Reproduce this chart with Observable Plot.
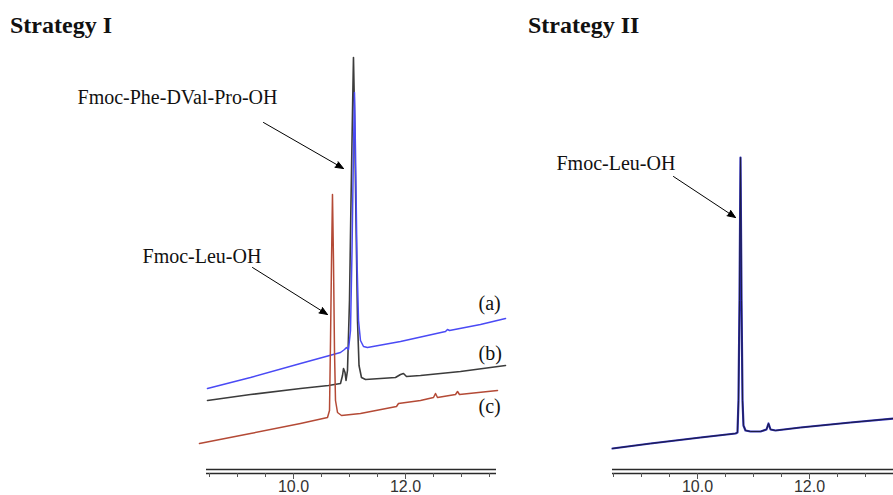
<!DOCTYPE html>
<html><head><meta charset="utf-8">
<script src="https://cdn.jsdelivr.net/npm/d3@7"></script>
<script src="https://cdn.jsdelivr.net/npm/@observablehq/plot@0.6"></script>
<style>
body{margin:0;background:#fff;}
#wrap{position:relative;width:893px;height:495px;overflow:hidden;background:#fff}
#wrap svg{position:absolute;left:0;top:0}
.title{position:absolute;font:bold 24px "Liberation Serif";line-height:1;color:#111;white-space:nowrap}
</style></head><body>
<div id="wrap">
<div class="title" style="left:10px;top:13px">Strategy I</div>
<div class="title" style="left:528px;top:13px">Strategy II</div>
</div>
<script>
// ---- Strategy I: retention time (min) and signal (arbitrary units) ----
const traceA_time = [8.464, 9.232, 10.125, 10.839, 10.911, 10.946, 10.982, 11.018, 11.045, 11.071, 11.089, 11.107, 11.134, 11.161, 11.196, 11.25, 11.321, 11.911, 12.714, 12.75, 12.786, 13.339, 13.786];
const traceA_signal = [85, 96, 110, 121, 124, 126, 124, 143, 223, 323, 381, 323, 213, 153, 133, 127, 126, 132, 142, 144, 143, 149, 155];

const traceB_time = [8.464, 9.232, 10.125, 10.625, 10.839, 10.875, 10.893, 10.920, 10.938, 10.964, 11.0, 11.027, 11.054, 11.071, 11.089, 11.116, 11.143, 11.170, 11.214, 11.286, 11.821, 11.911, 11.964, 12.018, 12.268, 12.982, 13.786];
const traceB_signal = [73, 79, 85, 88, 90, 98, 105, 101, 93, 103, 173, 273, 363, 416, 363, 253, 153, 108, 96, 94, 96, 99, 100, 97, 98, 102, 108];

const traceC_time = [8.321, 9.232, 10.125, 10.607, 10.643, 10.661, 10.679, 10.696, 10.714, 10.732, 10.75, 10.786, 10.857, 11.196, 11.839, 11.875, 12.268, 12.5, 12.536, 12.571, 12.893, 12.929, 12.964, 13.643];
const traceC_signal = [30, 40, 50, 56, 63, 133, 213, 279, 213, 123, 73, 61, 58, 60, 67, 70, 73, 76, 80, 76, 79, 82, 79, 83];

// ---- Strategy II ----
const traceII_time = [8.482, 9.161, 10.054, 10.679, 10.714, 10.732, 10.75, 10.768, 10.786, 10.804, 10.821, 10.857, 10.946, 11.125, 11.232, 11.268, 11.304, 11.393, 11.839, 12.732, 13.5];
const traceII_signal = [25, 30, 36, 40, 41, 73, 173, 316, 173, 73, 48, 43, 42, 42, 44, 50, 44, 43, 46, 51, 55];

// ---- axis ticks ----
const minorTicks = [8.5, 9, 9.5, 10, 10.5, 11, 11.5, 12, 12.5, 13, 13.5];
const majorTicks = [10, 12];
const baselineRules = [0, 4];

// ---- annotations ----
const labelsI_text = ["Fmoc-Phe-DVal-Pro-OH", "Fmoc-Leu-OH", "(a)", "(b)", "(c)"];
const labelsI_time = [6.143, 7.304, 13.304, 13.304, 13.304];
const labelsI_signal = [370, 211, 164, 114, 61];
const arrowsI_from_time = [9.464, 9.268];
const arrowsI_from_signal = [351, 206];
const arrowsI_to_time = [10.893, 10.607];
const arrowsI_to_signal = [305, 159];

const labelsII_text = ["Fmoc-Leu-OH"];
const labelsII_time = [7.482];
const labelsII_signal = [304];
const arrowsII_from_time = [9.571];
const arrowsII_from_signal = [297];
const arrowsII_to_time = [10.679];
const arrowsII_to_signal = [256];

const zipXY = (t, s) => t.map((x, i) => ({t: x, s: s[i]}));
const A = zipXY(traceA_time, traceA_signal);
const B = zipXY(traceB_time, traceB_signal);
const C = zipXY(traceC_time, traceC_signal);
const T2 = zipXY(traceII_time, traceII_signal);
const labI = labelsI_text.map((txt, i) => ({txt, t: labelsI_time[i], s: labelsI_signal[i]}));
const labII = labelsII_text.map((txt, i) => ({txt, t: labelsII_time[i], s: labelsII_signal[i]}));
const arrI = arrowsI_from_time.map((_, i) => ({x1: arrowsI_from_time[i], y1: arrowsI_from_signal[i], x2: arrowsI_to_time[i], y2: arrowsI_to_signal[i]}));
const arrII = arrowsII_from_time.map((_, i) => ({x1: arrowsII_from_time[i], y1: arrowsII_from_signal[i], x2: arrowsII_to_time[i], y2: arrowsII_to_signal[i]}));

const textOpts = {x: "t", y: "s", text: "txt", textAnchor: "start", lineAnchor: "bottom", fontFamily: "Liberation Serif", fontSize: 20, fill: "#111"};
const arrowOpts = {x1: "x1", y1: "y1", x2: "x2", y2: "y2", headLength: 13, headAngle: 44, stroke: "#000", fill: "#000", strokeWidth: 1};
const axisMarks = [
  Plot.ruleY(baselineRules, {stroke: "#2a2a2a", strokeWidth: 1.5}),
  Plot.axisX(minorTicks, {tickSize: 4, tickFormat: () => "", stroke: "#555", label: null}),
  Plot.axisX(majorTicks, {tickSize: 6, tickPadding: 1, tickFormat: d => d.toFixed(1), fontSize: 16, fontFamily: "Liberation Sans", stroke: "#555", fill: "#333", label: null})
];
const common = {width: 893, height: 495, marginTop: 23, marginBottom: 22,
  y: {domain: [0, 450], axis: null}, style: {background: "transparent", overflow: "visible"}};

const left = Plot.plot({...common, marginLeft: 206, marginRight: 397,
  x: {domain: [8.4464, 13.625], label: null},
  marks: [
    Plot.line(B, {x: "t", y: "s", stroke: "#3c3c3c", strokeWidth: 1.6}),
    Plot.line(A, {x: "t", y: "s", stroke: "#4a4af5", strokeWidth: 1.5}),
    Plot.line(C, {x: "t", y: "s", stroke: "#b44a36", strokeWidth: 1.5}),
    ...axisMarks,
    Plot.text(labI, textOpts),
    Plot.arrow(arrI, arrowOpts)
  ]});

const right = Plot.plot({...common, marginLeft: 612, marginRight: 0,
  x: {domain: [8.482, 13.5], label: null},
  marks: [
    Plot.line(T2, {x: "t", y: "s", stroke: "#3030b8", strokeWidth: 2.2}),
    Plot.line(T2, {x: "t", y: "s", stroke: "#1c1c40", strokeWidth: 1}),
    ...axisMarks,
    Plot.text(labII, textOpts),
    Plot.arrow(arrII, arrowOpts)
  ]});

const wrap = document.getElementById("wrap");
wrap.appendChild(left);
wrap.appendChild(right);
</script>
</body></html>
